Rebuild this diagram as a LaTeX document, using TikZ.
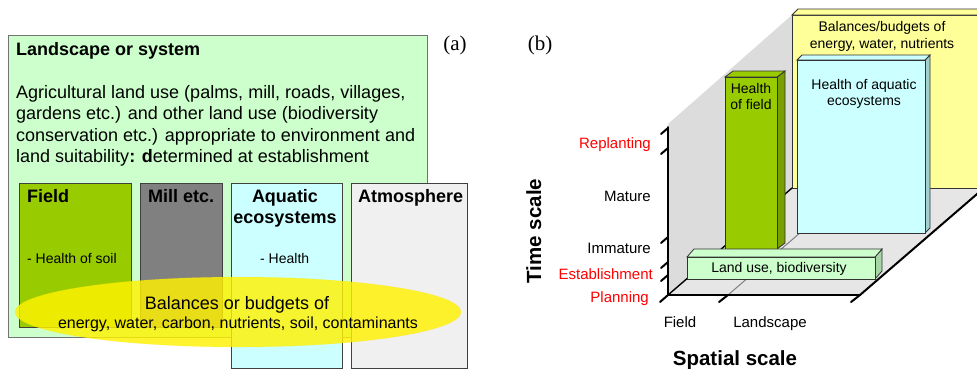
\documentclass[tikz,border=0pt]{standalone}
\usepackage{fontspec}
\setmainfont{Liberation Sans}
\newfontfamily\serifa{Liberation Serif}
\usetikzlibrary{shapes.geometric}
\definecolor{lgreen}{HTML}{CCFFCC}
\definecolor{fgreen}{HTML}{99CC00}
\definecolor{fgreend}{HTML}{7A9F00}
\definecolor{millgrey}{HTML}{808080}
\definecolor{aqua}{HTML}{CCFFFF}
\definecolor{aquad}{HTML}{A3CFCF}
\definecolor{atmo}{HTML}{F0F0F0}
\definecolor{lyellow}{HTML}{FFFF99}
\definecolor{wallgrey}{HTML}{DCDCDC}
\definecolor{floorgrey}{HTML}{E6E6E6}
\definecolor{lgreend}{HTML}{A6D6A6}
\definecolor{labred}{HTML}{FF0000}
\begin{document}
\begin{tikzpicture}[x=1pt,y=-1pt,
  box/.style={draw=black!75, line width=0.9pt, anchor=north west, inner sep=0},
  fa/.style={font=\fontsize{18}{21.5}\selectfont, inner sep=0},
  fab/.style={font=\fontsize{18}{21.5}\selectfont\bfseries, inner sep=0},
  fb/.style={font=\fontsize{16}{19}\selectfont, inner sep=0},
  fs/.style={font=\fontsize{14}{16.5}\selectfont, inner sep=0},
  fl/.style={font=\fontsize{15}{18}\selectfont, inner sep=0},
  ft/.style={font=\fontsize{20.5}{24}\selectfont\bfseries, inner sep=0},
  fser/.style={font=\fontsize{21}{24}\selectfont\serifa, inner sep=0},
  face/.style={draw=black!80, line width=0.8pt},
  axis/.style={line width=2pt, line cap=round},
]
\useasboundingbox (0,0) rectangle (977,368);
% ---------------- panel (a) ----------------
\node[box, draw=black!55, line width=1.2pt, fill=lgreen, minimum width=419pt, minimum height=302pt] (land) at (8,35) {};
\node[fab, anchor=base west] (landt) at (16,55.5) {Landscape or system};
\node[fa, anchor=base west] (l1) at (16,98) {Agricultural land use (palms, mill, roads, villages,};
\node[fa, anchor=base west] (l2) at (16,119.5) {gardens etc.) and other land use (biodiversity};
\node[fa, anchor=base west] (l3) at (16,141) {conservation etc.) appropriate to environment and};
\node[fa, anchor=base west] (l4) at (16,162.5) {land suitability\textbf{: d}etermined at establishment};

\node[box, fill=fgreen, minimum width=112pt, minimum height=144pt] (field) at (19,183) {};
\node[box, fill=millgrey, minimum width=82pt, minimum height=144pt] (mill) at (140,183) {};
\node[box, fill=aqua, minimum width=111pt, minimum height=185pt] (aqua) at (231,183) {};
\node[box, fill=atmo, minimum width=116pt, minimum height=185pt] (atmo) at (351,183) {};

\node[fab, anchor=base west] (fieldt) at (27,202) {Field};
\node[fs, anchor=base west] (fieldh) at (27,263) {- Health of soil};
\node[fab, anchor=base west] (millt) at (148,202) {Mill etc.};
\node[fab, anchor=base] (aquat1) at (285,202) {Aquatic};
\node[fab, anchor=base] (aquat2) at (285,223.5) {ecosystems};
\node[fs, anchor=base west] (aquah) at (260,263) {- Health};
\node[fab, anchor=base west] (atmot) at (358,202) {Atmosphere};

\node[ellipse, fill=yellow, fill opacity=0.82, draw=yellow!80!orange, draw opacity=0.25,
      minimum width=446pt, minimum height=70pt, inner sep=0] (budget) at (238,312) {};
\node[fa, anchor=base] (bud1) at (237,309) {Balances or budgets of};
\node[fb, anchor=base] (bud2) at (238,328.5) {energy, water, carbon, nutrients, soil, contaminants};

\node[fser, anchor=base] (pa) at (455,50) {(a)};
\node[fser, anchor=base] (pb) at (540,50) {(b)};

% ---------------- panel (b) ----------------
\fill[wallgrey] (668,295) -- (668,124) -- (792,15) -- (792,188) -- cycle;
\fill[floorgrey] (668,295) -- (860,295) -- (984,188) -- (792,188) -- cycle;
% back panel (yellow)
\filldraw[fill=lyellow, face] (792,188) rectangle (990,15);
\filldraw[fill=lyellow, face] (792,15) -- (798,9) -- (990,9) -- (990,15) -- cycle;
\node[fs, anchor=base] (bal1) at (882,31) {Balances/budgets of};
\node[fs, anchor=base] (bal2) at (882,48) {energy, water, nutrients};
% floor edges
\draw[line width=1.4pt] (668,295) -- (792,188);
\draw[gray, line width=1pt] (728,295) -- (852,188);
\draw[axis] (860,295) -- (984,188);
% aquatic box
\filldraw[fill=aquad, face] (925,60) -- (930,55) -- (930,228) -- (925,233) -- cycle;
\filldraw[fill=aqua, face] (797,60) -- (802,55) -- (930,55) -- (925,60) -- cycle;
\filldraw[fill=aqua, face] (797,60) rectangle (925,233);
\node[fs, anchor=base] (haq1) at (864,89) {Health of aquatic};
\node[fs, anchor=base] (haq2) at (864,105) {ecosystems};
% field bar
\filldraw[fill=fgreend, face] (777,77) -- (785,71) -- (785,243) -- (777,249) -- cycle;
\filldraw[fill=fgreen, face] (725,77) -- (733,71) -- (785,71) -- (777,77) -- cycle;
\filldraw[fill=fgreen, face] (725,77) rectangle (777,249);
\node[fs, anchor=base] (hf1) at (751,93) {Health};
\node[fs, anchor=base] (hf2) at (751,109) {of field};
% land use bar
\filldraw[fill=lgreend, face] (875,257) -- (882,249) -- (882,271) -- (875,279) -- cycle;
\filldraw[fill=lgreen, face] (687,257) -- (694,249) -- (882,249) -- (875,257) -- cycle;
\filldraw[fill=lgreen, face] (687,257) rectangle (875,279);
\node[fs, anchor=base] (lu) at (779,272) {Land use, biodiversity};
% axes
\coordinate (o) at (668,295);
\coordinate (vt) at (668,127);
\coordinate (hr) at (860,295);
\draw[axis] (vt) -- (o) -- (hr);
\foreach \yy in {128,148,237,262,275}
  \draw[axis] (668,\yy) -- (661,\yy+6);
\draw[axis] (o) -- (660,302);
\draw[axis] (728,295) -- (719,302);
\draw[axis] (hr) -- (851,302);
% axis labels
\node[fl, anchor=base east, text=labred] (rep) at (651,148.5) {Replanting};
\node[fl, anchor=base east] (mat) at (651,201.5) {Mature};
\node[fl, anchor=base east] (imm) at (651,253.5) {Immature};
\node[fl, anchor=base east, text=labred] (est) at (653,279.5) {Establishment};
\node[fl, anchor=base east, text=labred] (pla) at (649,302.5) {Planning};
\node[fl, anchor=base] (sf) at (680,327.5) {Field};
\node[fl, anchor=base] (sl) at (770,327.5) {Landscape};
\node[ft, anchor=base] (ss) at (735,365) {Spatial scale};
\node[ft, anchor=base, rotate=90] (ts) at (541,231) {Time scale};
\end{tikzpicture}
\end{document}
